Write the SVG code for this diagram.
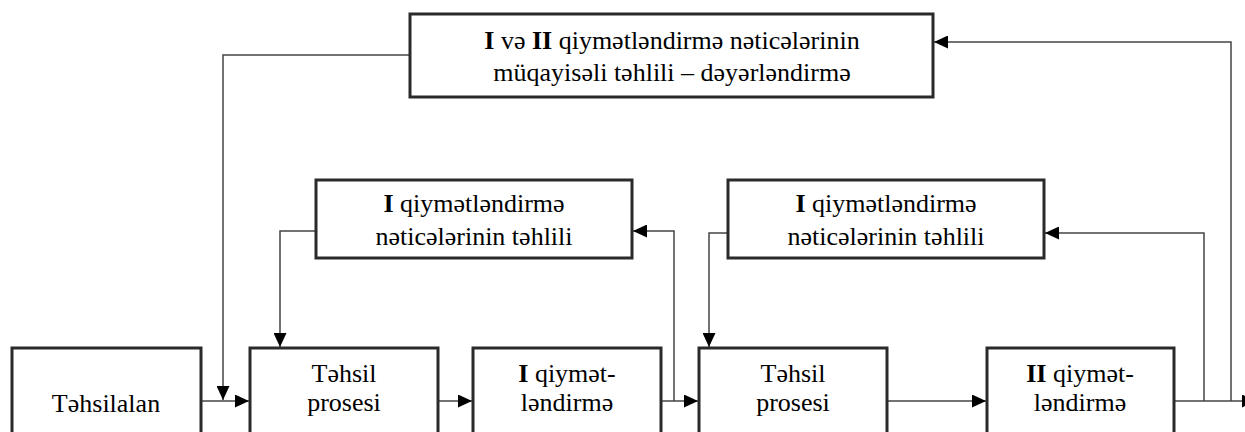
<svg xmlns="http://www.w3.org/2000/svg" width="1245" height="432" viewBox="0 0 1245 432">
<style>
.box{fill:#fff;stroke:#2a2a2a;stroke-width:3}
.t{font-family:"Liberation Serif","DejaVu Serif",serif;font-size:26px;fill:#000;text-anchor:middle}
.b{font-weight:bold}
.c{fill:none;stroke:#444;stroke-width:1.5}
</style>
<defs>
<marker id="ah" markerUnits="userSpaceOnUse" markerWidth="14" markerHeight="13" refX="14" refY="6.5" orient="auto">
<path d="M0,0 L14,6.5 L0,13 z" fill="#000"/>
</marker>
</defs>
<rect width="1245" height="432" fill="#fff"/>
<g id="connectors">
<path class="c" d="M410,55 H223 V400" marker-end="url(#ah)"/>
<path class="c" d="M201,401 H249" marker-end="url(#ah)"/>
<path class="c" d="M316,231 H280 V347" marker-end="url(#ah)"/>
<path class="c" d="M438,401 H472" marker-end="url(#ah)"/>
<path class="c" d="M661,401 H698" marker-end="url(#ah)"/>
<path class="c" d="M674,401 V231 H633" marker-end="url(#ah)"/>
<path class="c" d="M728,233 H709 V347" marker-end="url(#ah)"/>
<path class="c" d="M887,401 H986" marker-end="url(#ah)"/>
<path class="c" d="M1174,401 H1256" marker-end="url(#ah)"/>
<path class="c" d="M1204,401 V233 H1045" marker-end="url(#ah)"/>
<path class="c" d="M1231,401 V42 H934" marker-end="url(#ah)"/>
</g>
<g id="top">
<rect class="box" x="410" y="14" width="523" height="83"/>
<text class="t" x="672" y="49"><tspan class="b">I</tspan> və <tspan class="b">II</tspan> qiymətləndirmə nəticələrinin</text>
<text class="t" x="672" y="81">müqayisəli təhlili – dəyərləndirmə</text>
</g>
<g id="analysis1">
<rect class="box" x="316" y="180" width="316" height="78"/>
<text class="t" x="474" y="212"><tspan class="b">I</tspan> qiymətləndirmə</text>
<text class="t" x="474" y="245">nəticələrinin təhlili</text>
</g>
<g id="analysis2">
<rect class="box" x="728" y="180" width="316" height="78"/>
<text class="t" x="886" y="212"><tspan class="b">I</tspan> qiymətləndirmə</text>
<text class="t" x="886" y="245">nəticələrinin təhlili</text>
</g>
<g id="learner">
<rect class="box" x="12" y="348" width="189" height="100"/>
<text class="t" x="106" y="412">Təhsilalan</text>
</g>
<g id="process1">
<rect class="box" x="250" y="348" width="188" height="100"/>
<text class="t" x="344" y="382">Təhsil</text>
<text class="t" x="344" y="411">prosesi</text>
</g>
<g id="eval1">
<rect class="box" x="473" y="348" width="188" height="100"/>
<text class="t" x="567" y="382"><tspan class="b">I</tspan> qiymət-</text>
<text class="t" x="567" y="411">ləndirmə</text>
</g>
<g id="process2">
<rect class="box" x="699" y="348" width="188" height="100"/>
<text class="t" x="793" y="382">Təhsil</text>
<text class="t" x="793" y="411">prosesi</text>
</g>
<g id="eval2">
<rect class="box" x="987" y="348" width="187" height="100"/>
<text class="t" x="1080" y="382"><tspan class="b">II</tspan> qiymət-</text>
<text class="t" x="1080" y="411">ləndirmə</text>
</g>
</svg>
